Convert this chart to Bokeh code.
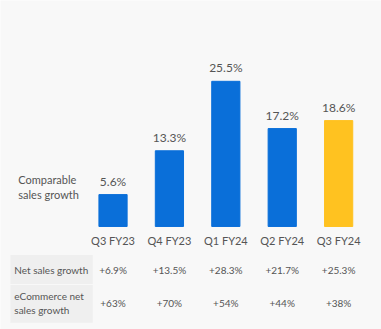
from bokeh.plotting import figure
from bokeh.models import Range1d, ColumnDataSource
from bokeh.core.properties import value
from bokeh.embed import file_html
from bokeh.resources import INLINE

quarters = ["Q3 FY23", "Q4 FY23", "Q1 FY24", "Q2 FY24", "Q3 FY24"]
comparable_growth = [5.6, 13.3, 25.5, 17.2, 18.6]
net_sales_growth = ["+6.9%", "+13.5%", "+28.3%", "+21.7%", "+25.3%"]
ecommerce_growth = ["+63%", "+70%", "+54%", "+44%", "+38%"]
bar_colors = ["#0a6fd9", "#0a6fd9", "#0a6fd9", "#0a6fd9", "#ffc220"]

W, H = 381, 329
xs = list(range(len(quarters)))

p = figure(width=W, height=H, output_backend="svg", toolbar_location=None,
           x_range=Range1d(-1.995, 4.76), y_range=Range1d(-18.1, 39.7),
           min_border=0, background_fill_color="#f8f8f8",
           border_fill_color="#f8f8f8")
p.outline_line_color = None
p.xaxis.visible = False
p.yaxis.visible = False
p.grid.visible = False

src = ColumnDataSource(dict(x=xs, top=comparable_growth, color=bar_colors,
                            lbl=[f"{v}%" for v in comparable_growth],
                            q=quarters, ns=net_sales_growth, ec=ecommerce_growth))

p.vbar(x="x", top="top", bottom=0, width=0.5, color="color", source=src)

font = value("Lato")
p.text(x="x", y="top", text="lbl", source=src, y_offset=-6,
       text_align="center", text_baseline="bottom", text_font=font,
       text_font_size="12px", text_color="#555555")
p.text(x="x", y=-2.5, text="q", source=src, text_align="center",
       text_baseline="middle", text_font=font, text_font_size="11px",
       text_color="#555555")

# left label
p.text(x=[-1.68], y=[6.9], text=["Comparable\nsales growth"],
       text_align="left", text_baseline="middle", text_font=font,
       text_font_size="11px", text_color="#555555")

# table row header boxes
p.quad(left=[-1.82, -1.82], right=[-0.36, -0.36], top=[-5.0, -10.3],
       bottom=[-10.1, -16.9], color="#efefef", line_color=None)

p.text(x=[-1.75], y=[-7.6], text=["Net sales growth"], text_align="left",
       text_baseline="middle", text_font=font, text_font_size="10px",
       text_color="#555555")
p.text(x=[-1.75], y=[-13.45], text=["eCommerce net\nsales growth"],
       text_align="left", text_baseline="middle", text_font=font,
       text_font_size="10px", text_color="#555555")

p.text(x="x", y=-7.6, text="ns", source=src, text_align="center",
       text_baseline="middle", text_font=font, text_font_size="10px",
       text_color="#555555")
p.text(x="x", y=-13.45, text="ec", source=src, text_align="center",
       text_baseline="middle", text_font=font, text_font_size="10px",
       text_color="#555555")

open("out.html", "w").write(file_html(p, INLINE))
